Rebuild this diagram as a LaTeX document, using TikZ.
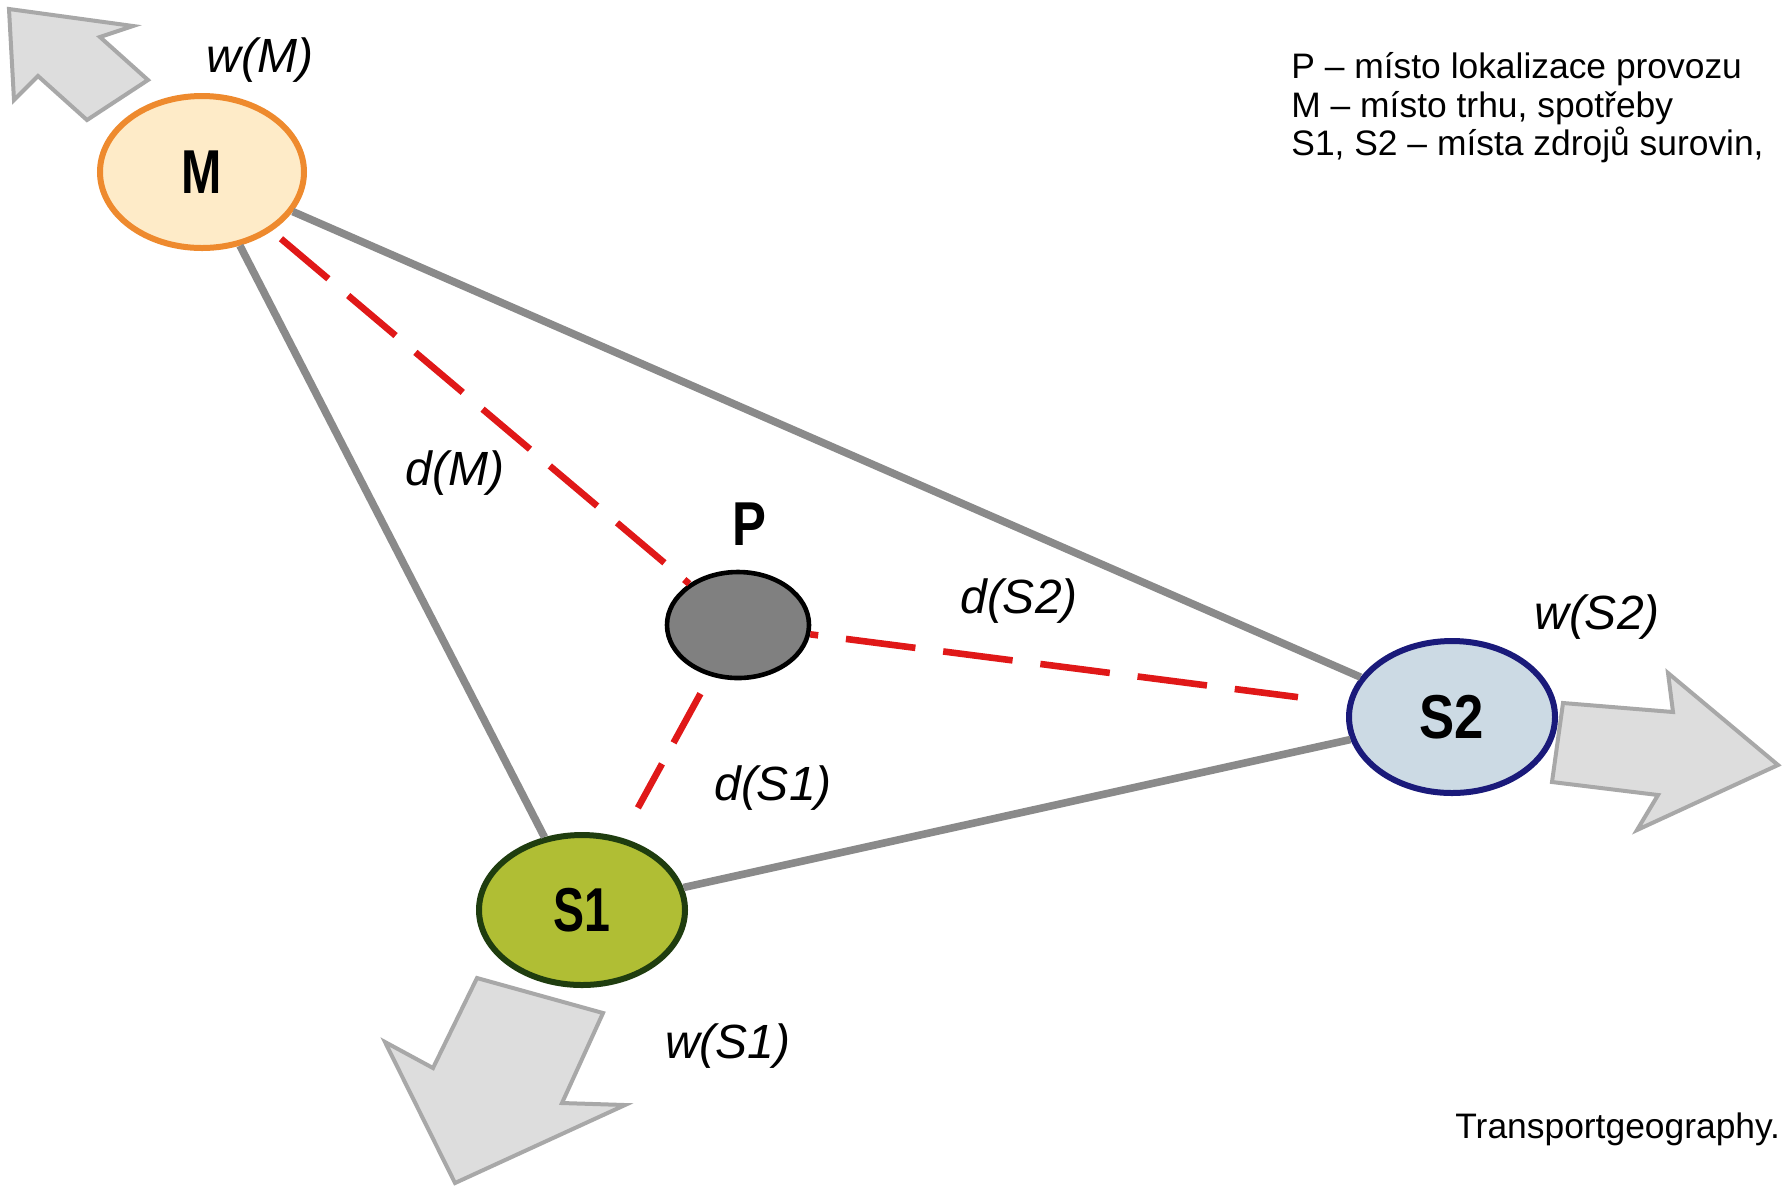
\documentclass[tikz,border=0pt]{standalone}
\usepackage{fontspec}
\usepackage{graphicx}
\setmainfont{Liberation Sans}
\usetikzlibrary{shapes.geometric}
\definecolor{mfill}{HTML}{FEEBC8}
\definecolor{mdraw}{HTML}{EE8A2E}
\definecolor{s2fill}{HTML}{CCDAE4}
\definecolor{s2draw}{HTML}{1A1A7A}
\definecolor{s1fill}{HTML}{B0BE34}
\definecolor{s1draw}{HTML}{1F3D0F}
\definecolor{pfill}{HTML}{808080}
\definecolor{conn}{HTML}{8A8A8A}
\definecolor{dist}{HTML}{E01818}
\definecolor{arrfill}{HTML}{DDDDDD}
\definecolor{arrdraw}{HTML}{A8A8A8}
\begin{document}
\begin{tikzpicture}[x=0.5pt,y=-0.5pt,
  place/.style={ellipse, inner sep=0pt, line width=3pt},
  namefont/.style={font=\fontsize{31pt}{31pt}\selectfont\bfseries},
  ital/.style={font=\fontsize{24pt}{24pt}\selectfont\itshape, inner sep=0pt},
  legend/.style={font=\fontsize{17.7pt}{19pt}\selectfont, anchor=base west, inner sep=0pt},
  grayline/.style={draw=conn, line width=3.8pt},
  redline/.style={draw=dist, line width=3.3pt, dash pattern=on 31pt off 13pt},
  bigarrow/.style={fill=arrfill, draw=arrdraw, line width=2pt, line join=miter}]
\useasboundingbox[fill=white] (0,0) rectangle (1782,1191);

% block arrows
\filldraw[bigarrow] (9,9) -- (133,26) -- (100,37) -- (148,80) -- (87,120) -- (38,76) -- (14,100) -- cycle;
\filldraw[bigarrow] (1563,703) -- (1673,712) -- (1668,673) -- (1778,765) -- (1637,830) -- (1658,795) -- (1552,782) -- cycle;
\filldraw[bigarrow] (477,978) -- (603,1013) -- (562,1103) -- (625,1105) -- (455,1183) -- (385,1042) -- (433,1068) -- cycle;

% places
\node[place, draw=mdraw, fill=mfill, minimum width=102pt, minimum height=76pt, namefont] (M) at (202,172) {\scalebox{0.78}[1]{M}};
\node[place, draw=s2draw, fill=s2fill, minimum width=103pt, minimum height=76pt, namefont] (S2) at (1452,717) {\scalebox{0.85}[1]{S2}};
\node[place, draw=s1draw, fill=s1fill, minimum width=103pt, minimum height=75pt, namefont] (S1) at (582,910) {\scalebox{0.75}[1]{S1}};
\node[place, draw=black, fill=pfill, line width=2.3pt, minimum width=71pt, minimum height=53pt] (P) at (738,625) {};
\node[namefont, inner sep=0pt] (Plbl) at (749,524) {\scalebox{0.82}[1]{P}};

% connectors
\draw[grayline] (M) -- (S2);
\draw[grayline] (M) -- (S1);
\draw[grayline] (S1) -- (S2);
\draw[redline, shorten <=6pt] (M) -- (P);
\draw[redline, dash pattern=on 35pt off 14pt, dash phase=31pt, shorten >=25pt] (P) -- (S2);
\draw[redline, dash pattern=on 28pt off 12pt, shorten <=10pt, shorten >=17pt] (P) -- (S1);

% labels
\node[ital] (wM) at (260,60) {w(M)};
\node[ital] (dM) at (455,473) {d(M)};
\node[ital] (dS2) at (1019,601) {d(S2)};
\node[ital] (dS1) at (773,788) {d(S1)};
\node[ital] (wS2) at (1597,617) {w(S2)};
\node[ital] (wS1) at (728,1046) {w(S1)};

% legend
\node[legend] (t1) at (1291,78) {P – místo lokalizace provozu};
\node[legend] (t2) at (1291,117) {M – místo trhu, spotřeby};
\node[legend] (t3) at (1291,155) {S1, S2 – místa zdrojů surovin,};
\node[legend] (src) at (1455,1138) {Transportgeography.};
\end{tikzpicture}
\end{document}
